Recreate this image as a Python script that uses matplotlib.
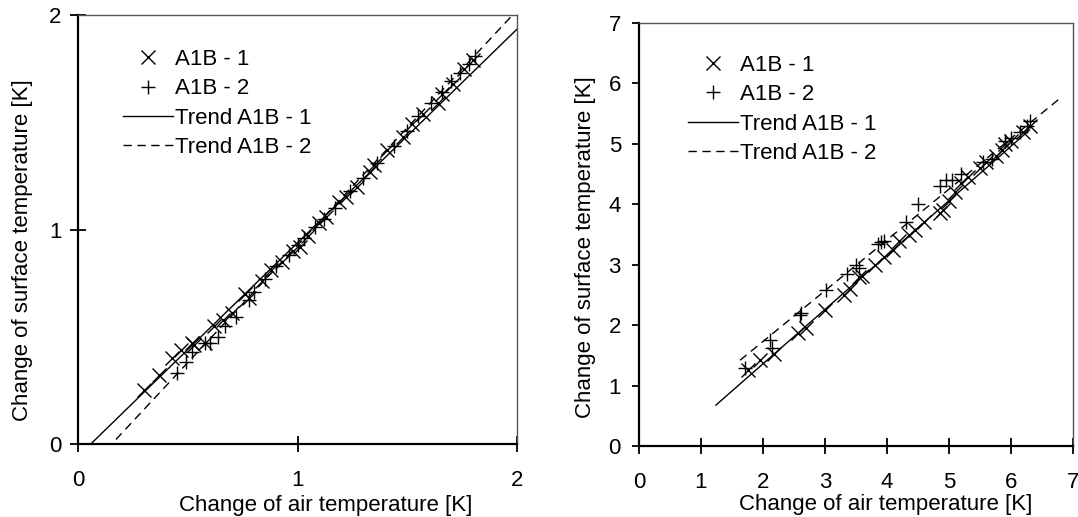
import matplotlib
matplotlib.use("Agg")
import matplotlib.pyplot as plt
import numpy as np

plt.rcParams['font.family'] = ['Liberation Sans', 'DejaVu Sans']

# ---- Left panel data ----
L1_x = [0.30, 0.37, 0.43, 0.47, 0.52, 0.53, 0.58, 0.62, 0.66, 0.70, 0.76, 0.78, 0.84,
        0.88, 0.93, 0.98, 1.01, 1.05, 1.10, 1.13, 1.19, 1.22, 1.27, 1.33, 1.35, 1.41,
        1.48, 1.52, 1.57, 1.64, 1.66, 1.71, 1.76, 1.80]
L1_y = [0.25, 0.32, 0.40, 0.44, 0.47, 0.46, 0.47, 0.55, 0.58, 0.61, 0.70, 0.68, 0.76,
        0.81, 0.85, 0.90, 0.92, 0.97, 1.03, 1.06, 1.13, 1.15, 1.20, 1.27, 1.30, 1.37,
        1.43, 1.49, 1.54, 1.59, 1.63, 1.68, 1.75, 1.79]
L2_x = [0.45, 0.49, 0.52, 0.58, 0.60, 0.64, 0.67, 0.72, 0.78, 0.80, 0.85, 0.90, 0.96,
        1.00, 1.03, 1.08, 1.12, 1.17, 1.24, 1.30, 1.36, 1.44, 1.50, 1.55, 1.61, 1.66,
        1.70, 1.74, 1.78, 1.81]
L2_y = [0.33, 0.38, 0.43, 0.47, 0.47, 0.50, 0.55, 0.59, 0.67, 0.71, 0.77, 0.83, 0.88,
        0.93, 0.96, 1.01, 1.05, 1.10, 1.18, 1.24, 1.31, 1.39, 1.46, 1.53, 1.59, 1.64,
        1.69, 1.73, 1.77, 1.81]
# trend lines (slope, intercept) and drawn x-range
L1_trend = (0.996, -0.058)
L2_trend = (1.095, -0.168)
L_trend_range = (0.0, 2.0)

# ---- Right panel data ----
R1_x = [1.75, 1.95, 2.18, 2.57, 2.70, 3.00, 3.30, 3.40, 3.55, 3.60, 3.80, 3.95, 4.10,
        4.20, 4.35, 4.45, 4.60, 4.85, 4.90, 5.00, 5.10, 5.20, 5.30, 5.50, 5.60, 5.75,
        5.85, 5.90, 6.00, 6.20, 6.30]
R1_y = [1.25, 1.42, 1.52, 1.87, 1.95, 2.25, 2.50, 2.60, 2.80, 2.82, 3.00, 3.13, 3.25,
        3.40, 3.50, 3.58, 3.70, 3.85, 3.90, 4.05, 4.20, 4.35, 4.45, 4.60, 4.70, 4.80,
        4.90, 5.00, 5.05, 5.20, 5.30]
R2_x = [1.71, 2.11, 2.15, 2.60, 2.62, 3.02, 3.35, 3.50, 3.55, 3.85, 3.90, 3.95, 4.30,
        4.50, 4.85, 4.95, 5.05, 5.20, 5.55, 5.70, 5.90, 6.00, 6.15, 6.25, 6.30]
R2_y = [1.29, 1.75, 1.62, 2.17, 2.20, 2.58, 2.85, 3.00, 2.95, 3.35, 3.38, 3.40, 3.70,
        4.00, 4.30, 4.40, 4.40, 4.50, 4.70, 4.75, 5.05, 5.10, 5.20, 5.30, 5.37]
R1_trend = (0.90, -0.44)
R2_trend = (0.84, 0.05)
R1_range = (1.24, 6.30)
R2_range = (1.63, 6.82)

labels = ['A1B - 1', 'A1B - 2', 'Trend A1B - 1', 'Trend A1B - 2']
xlabel = 'Change of air temperature [K]'
ylabel = 'Change of surface temperature [K]'

W, H = 1078, 517
fig = plt.figure(figsize=(W / 100, H / 100), dpi=100)

def px_axes(l, r, t, b):
    return fig.add_axes([l / W, 1 - b / H, (r - l) / W, (b - t) / H])

ax1 = px_axes(78, 517, 15, 444)
ax2 = px_axes(639, 1073, 23, 446)

FS = 16
mk = dict(markersize=10, markeredgewidth=1.0, color='black', linestyle='none')

def draw(ax, x1, y1, x2, y2, t1, r1, t2, r2):
    ax.plot(x1, y1, marker='x', label=labels[0], **mk)
    ax.plot(x2, y2, marker='+', label=labels[1], **mk)
    xs = np.array(r1)
    ax.plot(xs, t1[0] * xs + t1[1], color='black', lw=1.0, label=labels[2])
    xs = np.array(r2)
    ax.plot(xs, t2[0] * xs + t2[1], color='black', lw=1.0, ls=(0, (6, 4)), label=labels[3])
    for s in ['left', 'bottom']:
        ax.spines[s].set_linewidth(1.6)
        ax.spines[s].set_color('black')
    for s in ['top', 'right']:
        ax.spines[s].set_linewidth(1.0)
        ax.spines[s].set_color('#555555')
    ax.set_xlabel(xlabel, fontsize=FS)
    ax.set_ylabel(ylabel, fontsize=FS)

draw(ax1, L1_x, L1_y, L2_x, L2_y, L1_trend, L_trend_range, L2_trend, L_trend_range)
ax1.set_xlim(0, 2)
ax1.set_ylim(0, 2)
ax1.set_xticks([0, 1, 2])
ax1.set_yticks([0, 1, 2])
ax1.tick_params(axis='both', direction='inout', length=12, width=1.3, labelsize=FS)
ax1.tick_params(axis='x', pad=13)
ax1.tick_params(axis='y', pad=6)
ax1.xaxis.set_label_coords(0.564, -0.119)
ax1.yaxis.set_label_coords(-0.103, 0.452)

draw(ax2, R1_x, R1_y, R2_x, R2_y, R1_trend, R1_range, R2_trend, R2_range)
ax2.set_xlim(0, 7)
ax2.set_ylim(0, 7)
ax2.set_xticks(range(0, 8))
ax2.set_yticks(range(0, 8))
ax2.tick_params(axis='x', direction='inout', length=12, width=1.3, labelsize=FS, pad=13)
ax2.tick_params(axis='y', direction='out', length=5, width=1.3, labelsize=FS, pad=8)
ax2.xaxis.set_label_coords(0.569, -0.113)
ax2.yaxis.set_label_coords(-0.099, 0.47)

for ax, anchor in [(ax1, (0.103, 0.921)), (ax2, (0.113, 0.925))]:
    ax.legend(loc='upper left', bbox_to_anchor=anchor, frameon=False, fontsize=FS,
              handlelength=2.25, handletextpad=0.1, labelspacing=0.38, borderpad=0,
              borderaxespad=0)

fig.savefig('out.png', dpi=100)
